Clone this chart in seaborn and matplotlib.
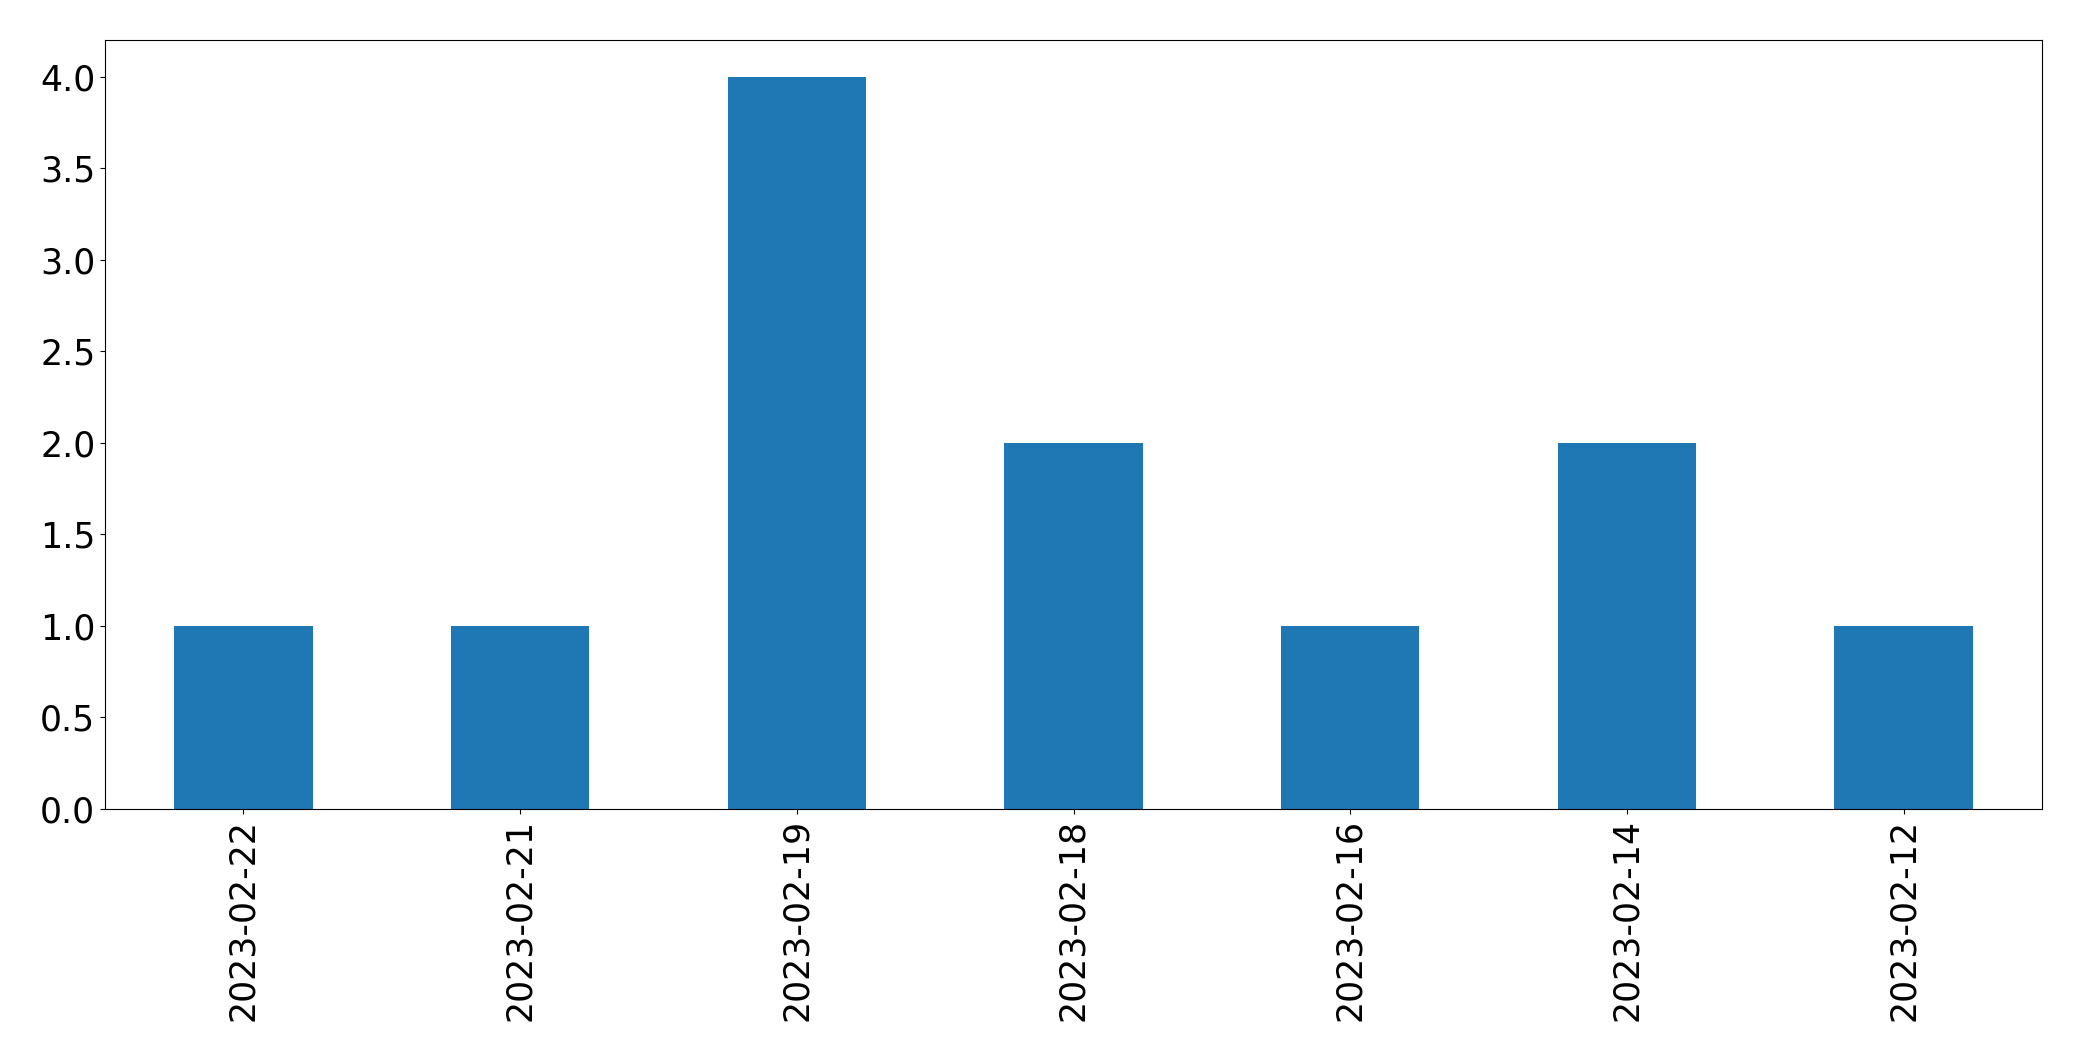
import matplotlib
matplotlib.use("Agg")
import matplotlib.pyplot as plt
import seaborn as sns
import pandas as pd

dates = ["2023-02-22", "2023-02-21", "2023-02-19", "2023-02-18",
         "2023-02-16", "2023-02-14", "2023-02-12"]
counts = [1, 1, 4, 2, 1, 2, 1]
yticks = [0, 0.5, 1, 1.5, 2, 2.5, 3, 3.5, 4]

df = pd.DataFrame({"date": dates, "count": counts})

plt.rcParams["font.family"] = ["DejaVu Sans"]
fig = plt.figure(figsize=(20.82, 10.61), dpi=100)
ax = fig.add_axes([105 / 2082, 1 - 809 / 1061, (2042 - 105) / 2082, (809 - 40) / 1061])

sns.barplot(data=df, x="date", y="count", order=dates, color="#1f77b4",
            saturation=1, width=0.5, errorbar=None, ax=ax)

ax.set_xlim(-0.5, len(dates) - 0.5)
ax.set_ylim(0, 4.2)
ax.set_yticks(yticks)
ax.set_yticklabels([f"{v:.1f}" for v in yticks])
ax.set_xlabel("")
ax.set_ylabel("")
ax.tick_params(axis="both", labelsize=25, color="black")
ax.tick_params(axis="x", labelrotation=90)
for s in ax.spines.values():
    s.set_visible(True)
    s.set_color("black")

fig.savefig("out.png", dpi=100)
